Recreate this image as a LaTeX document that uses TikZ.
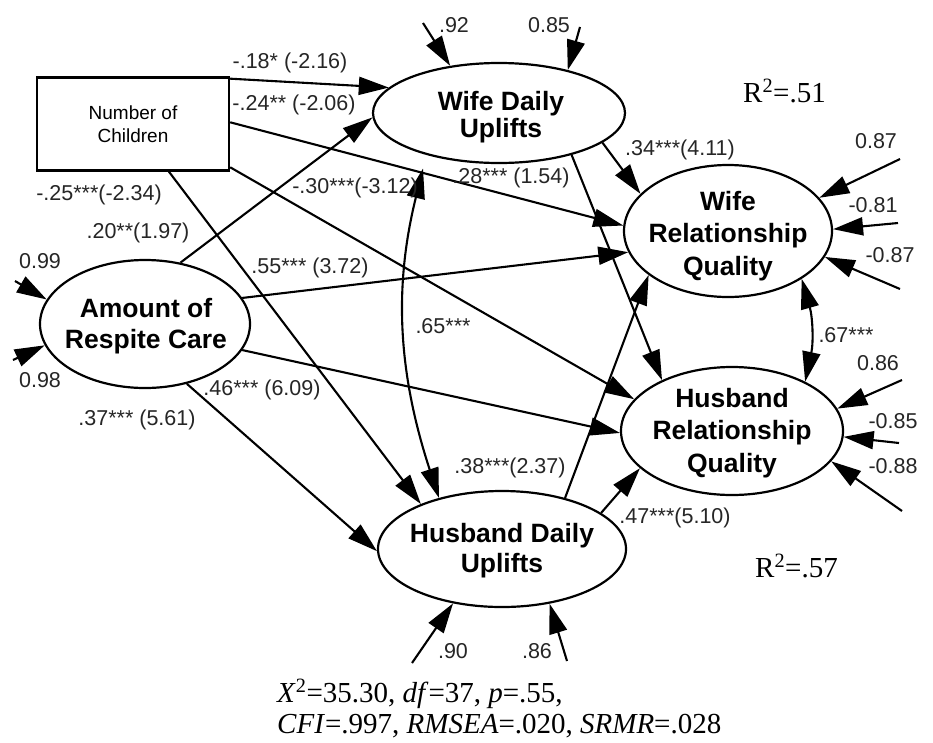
\documentclass[tikz,border=0pt]{standalone}
\usepackage{fontspec}
\setmainfont{Liberation Sans}
\newfontfamily\tmsfont{Liberation Serif}
\usetikzlibrary{shapes.geometric,arrows.meta}
\newcommand\lblfont{\fontsize{21.5}{24}\selectfont}
\newcommand\statfont{\tmsfont\fontsize{29}{31}\selectfont}
\begin{document}
\begin{tikzpicture}[x=1pt,y=-1pt,
  lat/.style={draw, ellipse, line width=2.2pt, inner sep=0pt},
  ltxt/.style={align=center, inner sep=0pt, font=\bfseries\fontsize{26.5}{#1}\selectfont},
  pth/.style={line width=2.1pt, -{Triangle[length=30pt,width=18pt]}},
  dbl/.style={line width=2.1pt, {Triangle[length=30pt,width=18pt]}-{Triangle[length=30pt,width=18pt]}},
  lab/.style={anchor=base, inner sep=0pt, font=\lblfont, text=black!85},
  stat/.style={anchor=base west, inner sep=0pt, font=\statfont}
]
\useasboundingbox (0,0) rectangle (933,742);
\fill[white] (0,0) rectangle (933,742);

% boxes and latent variables
\node[draw, line width=2.4pt, minimum width=192pt, minimum height=93pt, inner sep=0pt,
      align=center, font=\fontsize{19}{23}\selectfont] (nc) at (133,124) {Number of\\Children};
\node[lat, minimum width=252pt, minimum height=100pt] (wdu) at (499,113) {};
\node[ltxt=27] (wduT) at (501,117) {Wife Daily\\Uplifts};
\node[lat, minimum width=210pt, minimum height=128pt] (rc) at (145,324) {};
\node[ltxt=31] (rcT) at (146,326) {Amount of\\Respite Care};
\node[lat, minimum width=208pt, minimum height=132pt] (wrq) at (728,231) {};
\node[ltxt=32.5] (wrqT) at (728,236) {Wife\\Relationship\\Quality};
\node[lat, minimum width=222pt, minimum height=128pt] (hrq) at (732,431) {};
\node[ltxt=32.5] (hrqT) at (732,433) {Husband\\Relationship\\Quality};
\node[lat, minimum width=248pt, minimum height=116pt] (hdu) at (502,549) {};
\node[ltxt=30] (hduT) at (502,551) {Husband Daily\\Uplifts};

% structural paths
\draw[pth] (nc.25.6) -- (wdu.167.4);
\draw[pth] (nc.1.2) -- (wrq.177.7);
\draw[pth] (nc.-24.6) -- (hrq.162.1);
\draw[pth] (nc.-53.3) -- (hdu.151.2);
\draw[pth] (rc.60.6) -- (wdu.182);
\draw[pth] (rc.15) -- (wrq.192.3);
\draw[pth] (rc.-15.4) -- (hrq.181);
\draw[pth] (rc.-55.9) -- (hdu.181);
\draw[pth] (wdu.-16.5) -- (wrq.157.3);
\draw[pth] (wdu.-30.6) -- (hrq.144.8);
\draw[pth] (hdu.39) -- (wrq.209.9);
\draw[pth] (hdu.20.2) -- (hrq.202.7);
\draw[dbl, shorten <=14pt] (wdu.210.6) to[bend right=16] (hdu.141.4);
\draw[dbl] (wrq.-33.4) to[bend left=14] (hrq.34.6);

% error terms
\coordinate (e1) at (423,23);  \draw[pth] (e1) -- (wdu.136.7);
\coordinate (e2) at (580,27);  \draw[pth] (e2) -- (wdu.32.3);
\coordinate (e3) at (15,281);  \draw[pth] (e3) -- (rc.166.1);
\coordinate (e4) at (13,360);  \draw[pth] (e4) -- (rc.192.1);
\coordinate (e5) at (900,159); \draw[pth] (e5) -- (wrq.20.9);
\coordinate (e6) at (898,223); \draw[pth] (e6) -- (wrq.1.7);
\coordinate (e7) at (900,289); \draw[pth] (e7) -- (wrq.-15.6);
\coordinate (e8) at (902,380); \draw[pth] (e8) -- (hrq.12.2);
\coordinate (e9) at (899,443); \draw[pth] (e9) -- (hrq.-3.1);
\coordinate (e10) at (902,511); \draw[pth] (e10) -- (hrq.-17.6);
\coordinate (e11) at (412,663); \draw[pth] (e11) -- (hdu.228.2);
\coordinate (e12) at (567,661); \draw[pth] (e12) -- (hdu.-49.4);

% path labels
\node[lab] (l1) at (290,68) {-.18* (-2.16)};
\node[lab] (l2) at (294,110) {-.24** (-2.06)};
\node[lab] (l3) at (99,200) {-.25***(-2.34)};
\node[lab] (l4) at (138,238) {.20**(1.97)};
\node[lab] (l5) at (355,193) {-.30***(-3.12)};
\node[lab] (l6) at (511,183) {.28*** (1.54)};
\node[lab] (l7) at (680,155) {.34***(4.11)};
\node[lab] (l8) at (310,273) {.55*** (3.72)};
\node[lab] (l9) at (443,333) {.65***};
\node[lab] (l10) at (262,395) {.46*** (6.09)};
\node[lab] (l11) at (137,425) {.37*** (5.61)};
\node[lab] (l12) at (510,473) {.38***(2.37)};
\node[lab] (l13) at (675,523) {.47***(5.10)};
\node[lab] (l14) at (846,342) {.67***};

% error labels
\node[lab] (m1) at (454,32) {.92};
\node[lab] (m2) at (549,32) {0.85};
\node[lab] (m3) at (40,268) {0.99};
\node[lab] (m4) at (40,387) {0.98};
\node[lab] (m5) at (876,148) {0.87};
\node[lab] (m6) at (873,212) {-0.81};
\node[lab] (m7) at (890,262) {-0.87};
\node[lab] (m8) at (878,370) {0.86};
\node[lab] (m9) at (893,428) {-0.85};
\node[lab] (m10) at (893,473) {-0.88};
\node[lab] (m11) at (453,658) {.90};
\node[lab] (m12) at (537,658) {.86};

% R squared and fit
\node[stat] (r1) at (743,102) {R\textsuperscript{2}=.51};
\node[stat] (r2) at (755,577) {R\textsuperscript{2}=.57};
\node[stat] (f1) at (277,702) {\textit{X}\textsuperscript{2}=35.30, \textit{df}=37, \textit{p}=.55,};
\node[stat] (f2) at (277,733) {\textit{CFI}=.997, \textit{RMSEA}=.020, \textit{SRMR}=.028};
\end{tikzpicture}
\end{document}
